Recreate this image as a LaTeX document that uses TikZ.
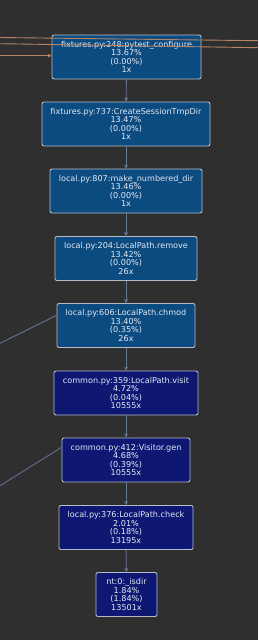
\documentclass[tikz,border=0pt]{standalone}
\usepackage{fontspec}
\setmainfont{DejaVu Sans}
\usetikzlibrary{arrows.meta}
\definecolor{bg}{HTML}{2F2F2F}
\definecolor{boxblue}{HTML}{0C4B80}
\definecolor{boxnavy}{HTML}{0E1872}
\definecolor{boxedge}{HTML}{B4BCCA}
\definecolor{txt}{HTML}{E2E8F2}
\definecolor{edgecol}{HTML}{687890}
\definecolor{tan}{HTML}{B88466}
\definecolor{sideA}{HTML}{66778A}
\definecolor{sideB}{HTML}{666E90}
\tikzset{
  fn/.style={draw=boxedge, line width=0.9pt, rounded corners=2pt, text=txt,
    font=\fontsize{8.1}{8.5}\selectfont, align=center, inner sep=0pt,
    minimum height=44pt},
  fnblue/.style={fn, fill=boxblue},
  fnnavy/.style={fn, fill=boxnavy},
  call/.style={draw=edgecol, line width=0.9pt, -{Stealth[length=4pt,width=4pt]}},
  tanline/.style={draw=tan, line width=0.9pt},
}
\begin{document}
\begin{tikzpicture}[x=1pt,y=-1pt]
\fill[bg] (0,0) rectangle (258,640);
\useasboundingbox (0,0) rectangle (258,640);
\node[fnblue, minimum width=149pt] (n1) at (126.5,57) {fixtures.py:248:pytest\_configure\\13.67\%\\(0.00\%)\\1x};
\node[fnblue, minimum width=168pt] (n2) at (126,124) {fixtures.py:737:CreateSessionTmpDir\\13.47\%\\(0.00\%)\\1x};
\node[fnblue, minimum width=152pt] (n3) at (126,191) {local.py:807:make\_numbered\_dir\\13.46\%\\(0.00\%)\\1x};
\node[fnblue, minimum width=142pt] (n4) at (126,258.5) {local.py:204:LocalPath.remove\\13.42\%\\(0.00\%)\\26x};
\node[fnblue, minimum width=138pt] (n5) at (126,325.5) {local.py:606:LocalPath.chmod\\13.40\%\\(0.35\%)\\26x};
\node[fnnavy, minimum width=144pt] (n6) at (126,393) {common.py:359:LocalPath.visit\\4.72\%\\(0.04\%)\\10555x};
\node[fnnavy, minimum width=128pt] (n7) at (126,460) {common.py:412:Visitor.gen\\4.68\%\\(0.39\%)\\10555x};
\node[fnnavy, minimum width=134pt] (n8) at (126,527.5) {local.py:376:LocalPath.check\\2.01\%\\(0.18\%)\\13195x};
\node[fnnavy, minimum width=61pt] (n9) at (126.5,594.5) {nt:0:\_isdir\\1.84\%\\(1.84\%)\\13501x};

\draw[call] (n1) -- (n2);
\draw[call] (n2) -- (n3);
\draw[call] (n3) -- (n4);
\draw[call] (n4) -- (n5);
\draw[call] (n5) -- (n6);
\draw[call] (n6) -- (n7);
\draw[call] (n7) -- (n8);
\draw[call] (n8) -- (n9);

\coordinate (a0) at (0,37.5);
\coordinate (a1) at (258,40.7);
\coordinate (b0) at (0,43.7);
\coordinate (b1) at (258,47.7);
\coordinate (c0) at (0,55.7);
\draw[tanline] (a0) -- (a1);
\draw[tanline] (b0) -- (b1);
\draw[tanline, -{Stealth[length=4pt,width=4pt]}] (c0) -- (n1.west |- c0);

\coordinate (d0) at (0,343.3);
\coordinate (e0) at (0,485.7);
\draw[sideA, line width=0.9pt] (d0) -- ([yshift=10.2pt]n5.west);
\draw[sideB, line width=0.9pt] (e0) -- ([yshift=12.7pt]n7.west);
\end{tikzpicture}
\end{document}
